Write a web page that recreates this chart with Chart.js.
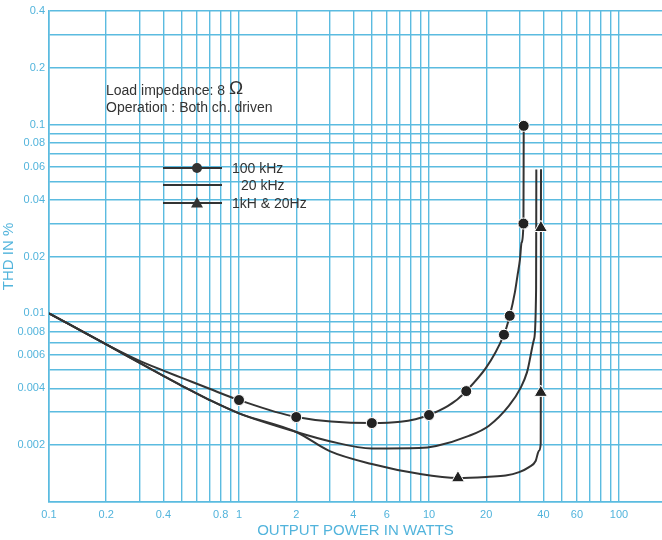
<!DOCTYPE html>
<html>
<head>
<meta charset="utf-8">
<script src="https://cdn.jsdelivr.net/npm/chart.js@4/dist/chart.umd.min.js"></script>
<style>
  html, body { margin: 0; padding: 0; background: #fff; }
  #wrap { width: 662px; height: 540px; position: relative; }
</style>
</head>
<body>
<div id="wrap"><canvas id="thdChart"></canvas></div>
<script>
// THD vs output power, 8 ohm, both channels driven

// --- curve points (watts, THD %) ---
const curve100kX = [0.1, 0.2, 0.3, 0.4, 0.5, 0.7, 1, 2, 5, 10, 15.7, 24.8, 26.6, 28.3, 29.2, 30.1, 30.7, 31.4, 31.5];
const curve100kY = [0.01, 0.00685, 0.0056, 0.00497, 0.00455, 0.00398, 0.00347, 0.00282, 0.00262, 0.00289, 0.00387, 0.0077, 0.0097, 0.0129, 0.0158, 0.0193, 0.0237, 0.0299, 0.0985];

const curve20kX = [0.1, 0.2, 0.3, 0.4, 0.5, 0.7, 1, 2, 3, 5, 8.85, 10.9, 16.2, 20.6, 26.3, 30.4, 32.8, 35.7, 36.6, 36.7];
const curve20kY = [0.01, 0.00685, 0.00546, 0.00466, 0.00413, 0.00347, 0.00295, 0.00235, 0.0021, 0.00192, 0.00193, 0.00198, 0.00224, 0.00253, 0.00323, 0.00404, 0.00488, 0.00729, 0.0134, 0.0578];

const curve1kX = [0.1, 0.2, 0.3, 0.4, 0.5, 0.7, 1, 2, 3, 5, 8.85, 14.2, 20.7, 25.3, 29.8, 33.6, 36.4, 37.9, 38.7, 38.75, 38.8, 38.85];
const curve1kY = [0.01, 0.00685, 0.00546, 0.00466, 0.00413, 0.00347, 0.00295, 0.00235, 0.00186, 0.00159, 0.00141, 0.00134, 0.00136, 0.00138, 0.00144, 0.00153, 0.00165, 0.00187, 0.00203, 0.0038, 0.0284, 0.058];

// --- measured points (markers) ---
const marks100kX = [1, 2, 5, 10, 15.7, 24.8, 26.6, 31.4, 31.5];
const marks100kY = [0.00347, 0.00282, 0.00262, 0.00289, 0.00387, 0.0077, 0.0097, 0.0299, 0.0985];
const marks1kX = [14.2, 38.75, 38.8];
const marks1kY = [0.00134, 0.0038, 0.0284];

// --- axes ---
const xGridValues = [0.1, 0.2, 0.3, 0.4, 0.5, 0.6, 0.7, 0.8, 0.9, 1, 2, 3, 4, 5, 6, 7, 8, 9, 10, 20, 30, 40, 50, 60, 70, 80, 90, 100];
const xTickLabels = [0.1, 0.2, 0.4, 0.8, 1, 2, 4, 6, 10, 20, 40, 60, 100];
const yGridValues = [0.001, 0.002, 0.003, 0.004, 0.005, 0.006, 0.007, 0.008, 0.009, 0.01, 0.02, 0.03, 0.04, 0.05, 0.06, 0.07, 0.08, 0.09, 0.1, 0.2, 0.3, 0.4];
const yTickLabels = [0.002, 0.004, 0.006, 0.008, 0.01, 0.02, 0.04, 0.06, 0.08, 0.1, 0.2, 0.4];

const seriesNames = ['100 kHz', '20 kHz', '1kH & 20Hz'];

const GRID = '#5bbbe0';
const TEXT_BLUE = '#52b4dc';
const INK = '#333333';
const FONT = '"Liberation Sans", Arial, sans-serif';

const toPoints = (xs, ys) => xs.map((x, i) => ({ x: x, y: ys[i] }));

// legend + annotation text inside the plot
const notesPlugin = {
  id: 'notes',
  afterDatasetsDraw(chart) {
    const ctx = chart.ctx;
    ctx.save();
    ctx.fillStyle = INK;
    ctx.strokeStyle = INK;
    ctx.textBaseline = 'middle';
    ctx.textAlign = 'left';

    ctx.font = '14px ' + FONT;
    const t1 = 'Load impedance: 8 ';
    ctx.fillText(t1, 106, 91);
    const w1 = ctx.measureText(t1).width;
    ctx.font = '19px ' + FONT;
    ctx.fillText('\u03A9', 106 + w1, 89);
    ctx.font = '14px ' + FONT;
    ctx.fillText('Operation : Both ch. driven', 106, 108);

    const rows = [
      { y: 168, style: 'circle', tx: 232 },
      { y: 185, style: null, tx: 241 },
      { y: 203, style: 'triangle', tx: 232 }
    ];
    rows.forEach((r, i) => {
      ctx.lineWidth = 2;
      ctx.beginPath();
      ctx.moveTo(163, r.y);
      ctx.lineTo(222, r.y);
      ctx.stroke();
      if (r.style === 'circle') {
        ctx.beginPath();
        ctx.arc(197, r.y, 5, 0, Math.PI * 2);
        ctx.fill();
      } else if (r.style === 'triangle') {
        ctx.beginPath();
        ctx.moveTo(197, r.y - 6);
        ctx.lineTo(203, r.y + 4.5);
        ctx.lineTo(191, r.y + 4.5);
        ctx.closePath();
        ctx.fill();
      }
      ctx.font = '14px ' + FONT;
      ctx.fillText(seriesNames[i], r.tx, r.y + 1);
    });
    ctx.restore();
  }
};

const lineStyle = {
  borderColor: INK,
  borderWidth: 2,
  pointRadius: 0,
  cubicInterpolationMode: 'monotone',
  fill: false,
  order: 2
};

const markStyle = {
  showLine: false,
  backgroundColor: '#222',
  borderColor: '#fff',
  pointBorderWidth: 1,
  order: 1
};

new Chart(document.getElementById('thdChart'), {
  type: 'line',
  data: {
    datasets: [
      Object.assign({ label: seriesNames[0], data: toPoints(curve100kX, curve100kY) }, lineStyle),
      Object.assign({ label: seriesNames[1], data: toPoints(curve20kX, curve20kY) }, lineStyle),
      Object.assign({ label: seriesNames[2], data: toPoints(curve1kX, curve1kY) }, lineStyle),
      Object.assign({ label: seriesNames[0] + ' pts', data: toPoints(marks100kX, marks100kY), pointStyle: 'circle', pointRadius: 5.5 }, markStyle),
      Object.assign({ label: seriesNames[2] + ' pts', data: toPoints(marks1kX, marks1kY), pointStyle: 'triangle', pointRadius: 7.5 }, markStyle)
    ]
  },
  options: {
    responsive: true,
    maintainAspectRatio: false,
    animation: false,
    layout: { autoPadding: false, padding: { top: 11, right: 0, left: 0, bottom: 0 } },
    plugins: {
      legend: { display: false },
      tooltip: { enabled: false }
    },
    scales: {
      x: {
        type: 'logarithmic',
        min: 0.1,
        max: 168.3,
        afterBuildTicks: (scale) => { scale.ticks = xGridValues.map(v => ({ value: v })); },
        afterFit: (scale) => { scale.height = 38; scale.paddingRight = 0; scale.paddingLeft = 0; },
        grid: { color: GRID, lineWidth: 1.4, drawTicks: false },
        border: { color: GRID, width: 1.6 },
        ticks: {
          autoSkip: false,
          maxRotation: 0,
          padding: 6,
          color: TEXT_BLUE,
          font: { family: FONT, size: 11 },
          callback: (v) => xTickLabels.includes(v) ? String(v) : ''
        },
        title: {
          display: true,
          text: 'OUTPUT POWER IN WATTS',
          color: TEXT_BLUE,
          font: { family: FONT, size: 15 },
          padding: { top: 0, bottom: 0 }
        }
      },
      y: {
        type: 'logarithmic',
        min: 0.001,
        max: 0.4,
        afterBuildTicks: (scale) => { scale.ticks = yGridValues.map(v => ({ value: v })); },
        afterFit: (scale) => { scale.width = 49; },
        grid: { color: GRID, lineWidth: 1.4, drawTicks: false },
        border: { color: GRID, width: 1.6 },
        ticks: {
          autoSkip: false,
          padding: 4,
          color: TEXT_BLUE,
          font: { family: FONT, size: 11 },
          callback: (v) => yTickLabels.includes(v) ? String(v) : ''
        },
        title: {
          display: true,
          text: 'THD IN %',
          color: TEXT_BLUE,
          font: { family: FONT, size: 15 },
          padding: { top: 0, bottom: 0 }
        }
      }
    }
  },
  plugins: [notesPlugin]
});
</script>
</body>
</html>
